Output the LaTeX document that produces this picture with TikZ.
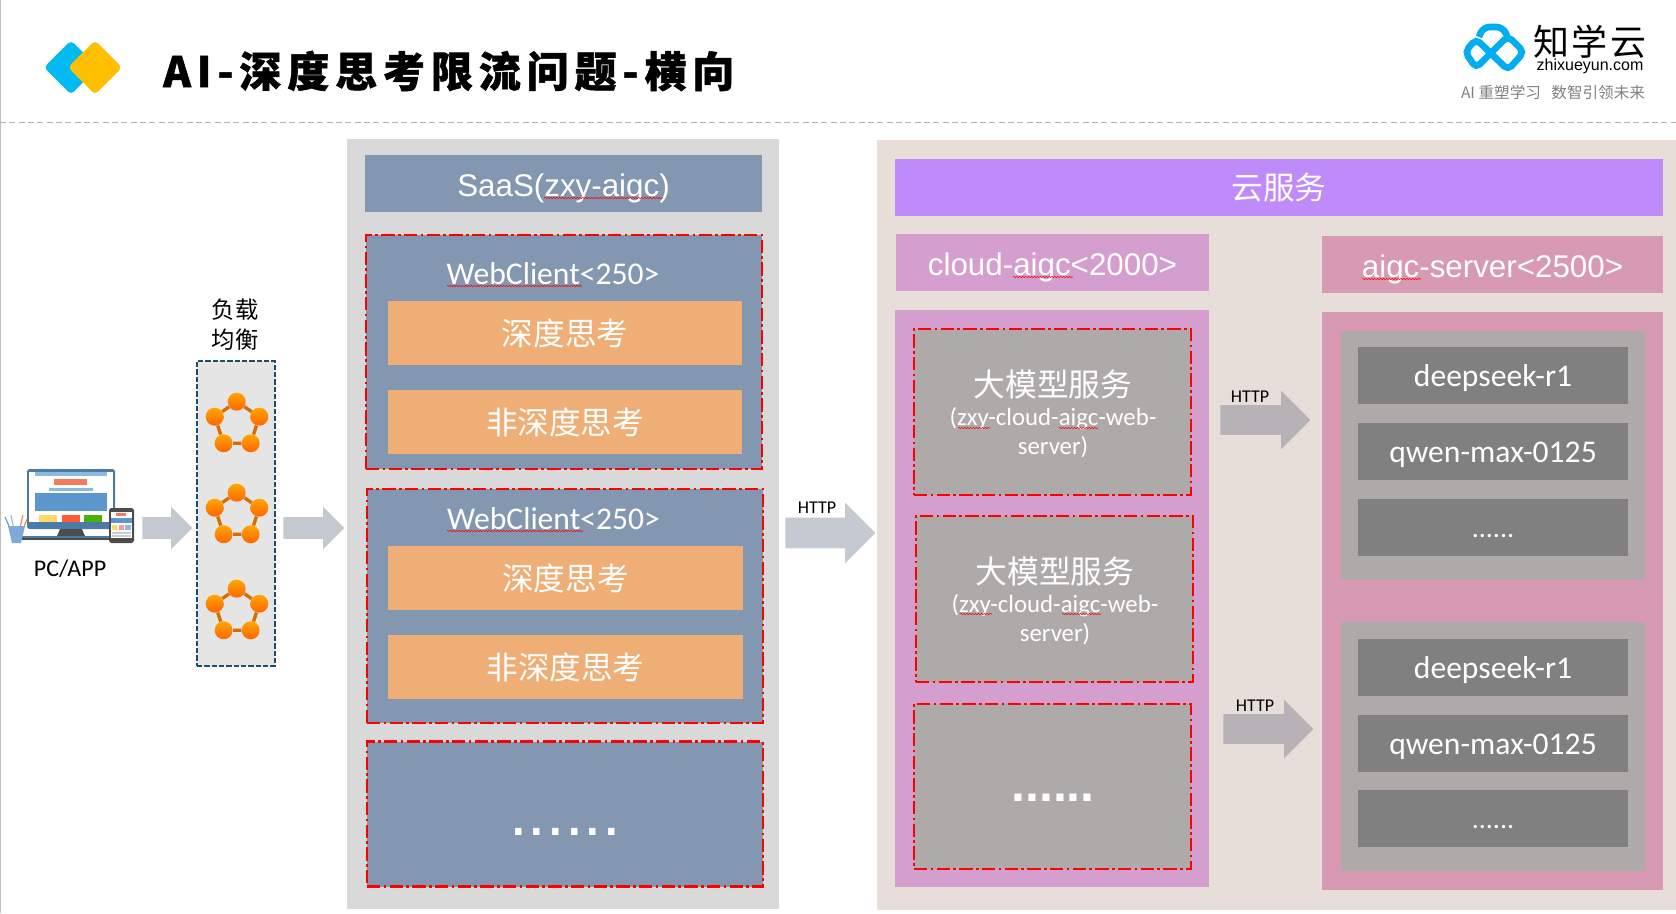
\documentclass[tikz,border=0pt]{standalone}
\usepackage{xcolor}
\usepackage{fontspec}
\usetikzlibrary{shapes.arrows,decorations.pathmorphing}
\setmainfont{Carlito}
\newfontfamily\cjkfont{Noto Sans CJK SC}
\newfontfamily\titlefont[LetterSpace=14,BoldFeatures={FakeBold=1.2}]{Noto Sans CJK SC}
\newfontfamily\logofont[LetterSpace=6]{Noto Sans CJK SC}
\newfontfamily\arialfont{Liberation Sans}
\definecolor{panelgray}{HTML}{D9D9D9}
\definecolor{panelsand}{HTML}{E7DDD9}
\definecolor{steel}{HTML}{8497B0}
\definecolor{sand}{HTML}{EEAE76}
\definecolor{violet}{HTML}{BF8BFA}
\definecolor{orchid}{HTML}{D49FCF}
\definecolor{rosy}{HTML}{D899B3}
\definecolor{stone}{HTML}{AEAAAA}
\definecolor{slate}{HTML}{808080}
\definecolor{arrowpale}{HTML}{C5CAD2}
\definecolor{arrowdark}{HTML}{B7B2B6}
\definecolor{lbline}{HTML}{1F4E6B}
\definecolor{screenblue}{HTML}{5B96CC}
\definecolor{frameblue}{HTML}{4A7BA6}
\definecolor{paleblue}{HTML}{8DB9E0}
\definecolor{coral}{HTML}{F47C5C}
\definecolor{logoblue}{HTML}{00AEEF}
\tikzset{
    sz/.style 2 args={minimum width=#1*0.75pt, minimum height=#2*0.75pt},
    plainbox/.style={rectangle, inner sep=0pt, text=white},
    redbox/.style={plainbox, draw=red, line width=1.6pt, dash pattern=on 10pt off 2.5pt on 2pt off 2.5pt},
    barrow/.style n args={3}{single arrow, anchor=tail, inner xsep=0pt, inner ysep=#3*0.1875pt, fill=#1, minimum height=#2*0.75pt, minimum width=#3*0.75pt,
        single arrow head extend=#3*0.1875pt, single arrow tip angle=90},
    ball/.style={circle, inner sep=0pt, minimum size=13.5pt, top color=orange!70!yellow, bottom color=orange!80!red},
    squig/.style={draw=red, line width=.4pt, decorate, decoration={snake, amplitude=.5pt, segment length=2.2pt}},
    arialtext/.style={text height=19pt, text depth=0pt, font=\arialfont\fontsize{23.5}{28}\selectfont},
    calibtext/.style={text height=17pt, text depth=0pt, font=\fontsize{23.7}{28}\selectfont},
    cjktext/.style={font=\cjkfont\fontsize{23.7}{28}\selectfont},
    httptext/.style={font=\fontsize{13.5}{16}\selectfont, inner sep=0pt}
}
\begin{document}
\begin{tikzpicture}[x=0.75pt,y=-0.75pt]
\useasboundingbox (0,0) rectangle (1676,913);
\draw[gray!50, line width=.75pt] (0.5,0) -- (0.5,913);
\draw[gray!60, line width=.75pt, dash pattern=on 4.5pt off 2.5pt] (0,123) -- (1676,123);

\fill[logoblue!85!cyan, rounded corners=3pt] (71,40.5) -- (98,67.5) -- (71,94.5) -- (44,67.5) -- cycle;
\fill[orange!50!yellow, rounded corners=3pt] (95,40.5) -- (122,67.5) -- (95,94.5) -- (68,67.5) -- cycle;
\node[anchor=west, inner sep=0pt, font=\titlefont\bfseries\fontsize{31.5}{36}\selectfont] (title) at (163,71) {AI-深度思考限流问题-横向};

\draw[logoblue, line width=5pt, rounded corners=4pt] (1465,52) -- (1476,39) -- (1508,70) -- (1524,52) -- (1508,36) -- (1476,68) -- cycle;
\draw[logoblue, line width=5pt, rounded corners=5pt] (1479,37) -- (1483,27) -- (1503,27) -- (1507,36);
\node[inner sep=0pt, font=\logofont\fontsize{27}{30}\selectfont] (brand) at (1590,42) {知学云};
\node[inner sep=0pt, font=\arialfont\fontsize{12}{14}\selectfont] (brandurl) at (1590,66) {zhixueyun.com};
\node[inner sep=0pt, text=slate, font=\cjkfont\fontsize{11.7}{14}\selectfont] (slogan) at (1553,93) {AI 重塑学习\ \ \ 数智引领未来};

\fill[frameblue, rounded corners=2pt] (27,469) rectangle (115,529);
\fill[white] (29,472) rectangle (113,522);
\fill[paleblue] (35,472) rectangle (107,476);
\fill[coral] (54,479) rectangle (87,485);
\fill[paleblue] (49,488) rectangle (93,491);
\fill[screenblue] (35,493) rectangle (107,511);
\fill[orange!50!yellow!60] (39,515) rectangle (57,522);
\fill[red!60!orange!80] (62,515) rectangle (80,522);
\fill[green!40!olive] (84,515) rectangle (102,522);
\fill[black!70] (60,529) -- (82,529) -- (85,536) -- (57,536) -- cycle;
\fill[frameblue] (20,536) rectangle (110,538);
\fill[black!70] (20,538) rectangle (110,540);
\draw[screenblue, line width=.8pt] (5,517) -- (13,535);
\draw[paleblue, line width=.8pt] (11,515) -- (15,535);
\draw[coral, line width=.8pt] (23,515) -- (17,540);
\draw[orange, line width=.8pt] (27,519) -- (21,535);
\fill[screenblue!80] (8,526) -- (25,526) -- (21,543) -- (12,543) -- cycle;
\fill[black!70, rounded corners=2pt] (109,508) rectangle (134,543);
\fill[white] (111,512) rectangle (132,538);
\fill[coral] (116,513) rectangle (126,516);
\fill[screenblue] (111,518) rectangle (132,523);
\fill[orange!50!yellow!60] (112,525) rectangle (117,530);
\fill[red!40] (119,525) rectangle (124,530);
\fill[paleblue] (125,525) rectangle (131,530);
\fill[gray!40] (112,532) rectangle (131,534);
\fill[gray!40] (112,535) rectangle (131,537);
\node[inner sep=0pt, font=\fontsize{18}{22}\selectfont] (client) at (70,569) {PC/APP};

\node[barrow={arrowpale}{50}{42}] (toLb) at (142,528) {};

\node[align=center, inner sep=0pt, font=\cjkfont\fontsize{17.5}{22.5}\selectfont] (lbtitle) at (235,325) {负载\\均衡};
\node[rectangle, fill=black!10, draw=lbline, line width=1.5pt, dash pattern=on 4pt off 1.5pt, sz={78}{305}] (lb) at (236,513.5) {};
\foreach \cy/\n in {0/p,91/q,187/r} {
    \node[ball] (\n1) at (236.7,401.7+\cy) {};
    \node[ball] (\n2) at (259.3,416.7+\cy) {};
    \node[ball] (\n3) at (250.7,443.3+\cy) {};
    \node[ball] (\n4) at (223.7,443.3+\cy) {};
    \node[ball] (\n5) at (214.7,416.7+\cy) {};
    \draw[orange!85!black, line width=2.5pt] (\n1) -- (\n2) -- (\n3) -- (\n4) -- (\n5) -- (\n1);
}

\node[barrow={arrowpale}{61}{42}] (toSaas) at (283,528) {};

\node[plainbox, fill=panelgray, sz={432}{770}] (saas) at (563,524) {};
\node[plainbox, fill=steel, sz={397}{57}, arialtext] (saashead) at (563.5,183.5) {SaaS(zxy-aigc)};
\node[redbox, fill=steel, sz={396}{234}] (client1) at (564,352) {};
\node[plainbox, font=\fontsize{23.7}{28}\selectfont] (client1name) at (553,274) {WebClient<250>};
\node[plainbox, fill=sand, sz={354}{64}, cjktext] (deep1) at (565,333) {深度思考};
\node[plainbox, fill=sand, sz={354}{64}, cjktext] (plain1) at (565,422) {非深度思考};
\node[redbox, fill=steel, sz={396}{234}] (client2) at (565,606) {};
\node[plainbox, font=\fontsize{23.7}{28}\selectfont] (client2name) at (553.5,519) {WebClient<250>};
\node[plainbox, fill=sand, sz={355}{64}, cjktext] (deep2) at (565.5,578) {深度思考};
\node[plainbox, fill=sand, sz={355}{64}, cjktext] (plain2) at (565.5,667) {非深度思考};
\node[redbox, fill=steel, sz={396}{145}] (client3) at (565,814) {};
\node[plainbox, font=\arialfont\fontsize{50}{50}\selectfont] (client3dots) at (565,832) {......};

\node[barrow={arrowpale}{90}{60}] (toCloud) at (785,533) {};
\node[httptext] (toCloudname) at (817,508) {HTTP};

\node[plainbox, fill=panelsand, sz={799}{770}] (cloud) at (1276.5,525) {};
\node[plainbox, fill=violet, sz={768}{57}, cjktext] (cloudhead) at (1279,187.5) {云服务};
\node[plainbox, fill=orchid, sz={313}{57}, arialtext] (caigc) at (1052.5,262.5) {cloud-aigc<2000>};
\node[plainbox, fill=orchid, sz={314}{577}] (caigcbody) at (1052,598.5) {};
\node[redbox, fill=stone, sz={277}{166}] (svc1) at (1052.5,412) {};
\node[plainbox, align=center, font=\fontsize{18.6}{22}\selectfont] (svc1name) at (1053,414) {{\cjkfont\fontsize{23.8}{25}\selectfont 大模型服务}\\(zxy-cloud-aigc-web-\\server)};
\node[redbox, fill=stone, sz={277}{166}] (svc2) at (1054.5,599) {};
\node[plainbox, align=center, font=\fontsize{18.6}{22}\selectfont] (svc2name) at (1055,601) {{\cjkfont\fontsize{23.8}{25}\selectfont 大模型服务}\\(zxy-cloud-aigc-web-\\server)};
\node[redbox, fill=stone, sz={277}{165}] (svc3) at (1052.5,786.5) {};
\node[plainbox, font=\arialfont\bfseries\fontsize{37.5}{40}\selectfont] (svc3dots) at (1053,798) {......};

\node[barrow={arrowdark}{90}{58}] (toModelA) at (1220,420) {};
\node[httptext] (toModelAname) at (1250,397) {HTTP};
\node[barrow={arrowdark}{90}{58}] (toModelB) at (1223,729) {};
\node[httptext] (toModelBname) at (1255,706) {HTTP};

\node[plainbox, fill=rosy, sz={341}{57}, arialtext] (server) at (1492.5,264.5) {aigc-server<2500>};
\node[plainbox, fill=rosy, sz={341}{578}] (serverbody) at (1492.5,601) {};
\foreach \gy/\n in {331/a,622/b} {
    \node[plainbox, fill=stone, sz={304}{249}, anchor=north] (group\n) at (1493,\gy) {};
}
\node[plainbox, fill=slate, sz={270}{57}, calibtext] (deepa) at (1493,375.5) {deepseek-r1};
\node[plainbox, fill=slate, sz={270}{57}, calibtext] (qwena) at (1493,451.5) {qwen-max-0125};
\node[plainbox, fill=slate, sz={270}{57}] (morea) at (1493,527.5) {};
\node[plainbox, font=\fontsize{21}{24}\selectfont] (moreatext) at (1493,536) {......};
\node[plainbox, fill=slate, sz={270}{57}, calibtext] (deepb) at (1493,667.5) {deepseek-r1};
\node[plainbox, fill=slate, sz={270}{57}, calibtext] (qwenb) at (1493,743.5) {qwen-max-0125};
\node[plainbox, fill=slate, sz={270}{57}] (moreb) at (1493,818.5) {};
\node[plainbox, font=\fontsize{21}{24}\selectfont] (morebtext) at (1493,827) {......};

\foreach \xa/\xb/\yy in {544/663/198,447/582/286,447/583/531,1013/1073/277,1362/1421/279,958/990/428,1059/1098/428,960/992/614,1062/1101/614} {
    \draw[squig] (\xa,\yy) -- (\xb,\yy);
}
\end{tikzpicture}
\end{document}
